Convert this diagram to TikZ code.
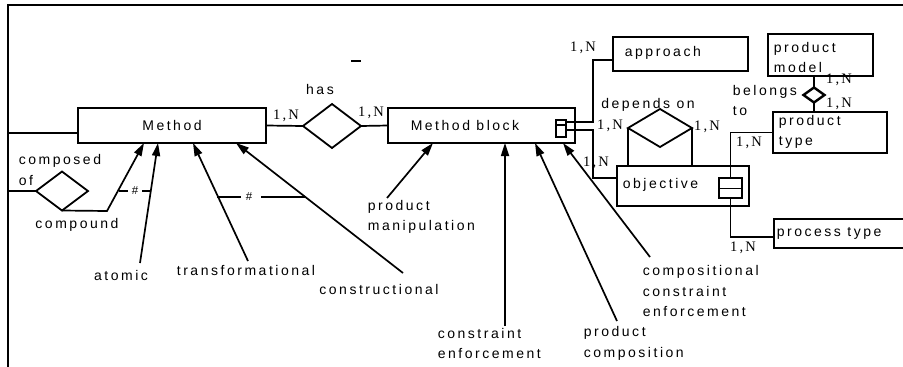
\documentclass[tikz,border=0pt]{standalone}
\usepackage{fontspec}
\setmainfont{Liberation Sans}[LetterSpace=18]
\newfontfamily\cardfont{Liberation Serif}[LetterSpace=15]
\usetikzlibrary{shapes.geometric,arrows.meta}

\begin{document}
\begin{tikzpicture}[x=1pt,y=-1pt,line width=1.7pt,
  ebox/.style={draw,line width=1.8pt,inner sep=0pt,outer sep=0pt,anchor=north west},
  rel/.style={draw,diamond,line width=1.8pt,inner sep=0pt,outer sep=0pt},
  lbl/.style={font=\fontsize{14}{20.5}\selectfont,inner sep=0pt,align=left},
  card/.style={font=\cardfont\fontsize{14.5}{15}\selectfont,inner sep=0pt},
  isa/.style={-{Triangle[length=13pt,width=8pt]}},
]
\useasboundingbox (0,0) rectangle (903,367);

% frame
\coordinate (frTL) at (8,5);
\coordinate (frTR) at (903,5);
\coordinate (frBL) at (8,367);
\draw (frTR) -- (frTL) -- (frBL);
\coordinate (mkA) at (351,61);
\coordinate (mkB) at (361,61);
\draw[line width=2.8pt] (mkA) -- (mkB);

% entities
\node[ebox,minimum width=188pt,minimum height=35pt] (method) at (78,108) {};
\node[lbl] (methodT) at (172,125) {Method};
\node[ebox,minimum width=187pt,minimum height=35pt] (mblock) at (388,108) {};
\node[lbl] (mblockT) at (465,125) {Method block};
\node[ebox,minimum width=10pt,minimum height=17pt] (mbc) at (556,120) {};
\draw[line width=1.2pt] ([yshift=-5pt]mbc.north west) -- ([yshift=-5pt]mbc.north east);

\node[ebox,minimum width=135pt,minimum height=34pt] (approach) at (613,37) {};
\node[lbl,anchor=west] (approachT) at (624,53) {approach};
\node[ebox,minimum width=132pt,minimum height=40pt] (objective) at (617,166) {};
\node[lbl,anchor=west] (objectiveT) at (622,185) {objective};
\node[ebox,minimum width=23pt,minimum height=20pt] (obc) at (719,178) {};
\draw[line width=1.2pt] ([yshift=-10.5pt]obc.north west) -- ([yshift=-10.5pt]obc.north east);

\node[ebox,minimum width=105pt,minimum height=42pt] (pmodel) at (768,34) {};
\node[lbl,anchor=west] (pmodelT) at (773,57.5) {product\\model};
\node[ebox,minimum width=114pt,minimum height=41pt] (ptype) at (773,112) {};
\node[lbl,anchor=west] (ptypeT) at (778,132) {product\\type};
\node[ebox,minimum width=140pt,minimum height=29pt] (proc) at (774,219) {};
\node[lbl,anchor=west] (procT) at (776,233) {process type};

% relationships
\node[rel,minimum width=58pt,minimum height=44pt] (has) at (332,126) {};
\node[lbl] (hasT) at (320,89) {has};
\node[rel,minimum width=52pt,minimum height=39pt] (comp) at (62,191) {};
\node[lbl,anchor=west] (compT) at (18,170) {composed\\of};
\node[rel,minimum width=64pt,minimum height=38pt] (dep) at (660,128) {};
\node[lbl] (depT) at (648,105) {depends on};
\node[rel,minimum width=21pt,minimum height=15pt,line width=2.4pt] (bel) at (814,95) {};
\node[lbl,anchor=west] (belT) at (732,100.5) {belongs\\to};

% cardinalities
\node[card] (c1) at (286,116) {1,N};
\node[card] (c2) at (371,113) {1,N};
\node[card] (c3) at (583,48) {1,N};
\node[card] (c4) at (610,126) {1,N};
\node[card] (c5) at (596,163) {1,N};
\node[card] (c6) at (707,127) {1,N};
\node[card] (c7) at (839,80) {1,N};
\node[card] (c8) at (839,104) {1,N};
\node[card] (c9) at (749,143) {1,N};
\node[card] (c10) at (743,248) {1,N};

% relationship connectors
\draw (method.east) -- (has.west);
\draw (has.east) -- (mblock.west);
\coordinate (f133) at (8,133);
\draw (f133) -- (f133 -| method.west);
\draw (comp.west) -- (comp.west -| f133);
\coordinate (apJ) at (593,60);
\draw ([yshift=6.5pt]mbc.east) -| (apJ) -- (apJ -| approach.west);
\coordinate (obJ) at (593,178);
\draw ([yshift=-1.5pt]mbc.east) -| (obJ) -- (obJ -| objective.west);
\draw (dep.west) -- (dep.west |- objective.north);
\draw (dep.east) -- (dep.east |- objective.north);
\draw (bel.north) -- (bel.north |- pmodel.south);
\draw (bel.south) -- (bel.south |- ptype.north);
\draw (obc.north) |- (ptype.west);
\draw (obc.south) |- ([yshift=-3.5pt]proc.west);

% specialisations of Method
\node[lbl] (compoundT) at (77,225) {compound};
\node[lbl] (atomicT) at (121,275) {atomic};
\node[lbl] (transT) at (246,270) {transformational};
\node[lbl] (constrT) at (379,289) {constructional};
\coordinate (cbend) at (107,211);
\draw[isa] (comp.south) -- (cbend) -- ([xshift=66pt]method.south west);
\coordinate (atomicE) at (140,263);
\draw[isa] (atomicE) -- ([xshift=80pt]method.south west);
\coordinate (transE) at (248,261);
\draw[isa] (transE) -- ([xshift=115pt]method.south west);
\coordinate (constrE) at (403,273);
\draw[isa] (constrE) -- ([xshift=158pt]method.south west);

% exclusivity marks
\node[font=\fontsize{11.5}{12}\selectfont,inner sep=0pt] (ex1) at (135,191) {\#};
\coordinate (ex1a) at (119,191);
\coordinate (ex1b) at (150,191);
\draw (ex1a) -- ([xshift=-3pt]ex1.west);
\draw ([xshift=3pt]ex1.east) -- (ex1b);
\node[font=\fontsize{11.5}{12}\selectfont,inner sep=0pt] (ex2) at (249,197) {\#};
\coordinate (ex2a) at (217,197);
\coordinate (ex2b) at (305,197);
\draw (ex2a) -- ([xshift=-4pt]ex2.west);
\draw ([xshift=8pt]ex2.east) -- (ex2b);

% specialisations of Method block
\node[lbl,anchor=west] (pmanT) at (367,217) {product\\manipulation};
\coordinate (pmanE) at (387,198);
\draw[isa] (pmanE) -- ([xshift=45pt]mblock.south west);
\node[lbl,anchor=west] (cenfT) at (437,343.5) {constraint\\enforcement};
\coordinate (cenfE) at (505,326);
\draw[isa] (cenfE) -- (cenfE |- mblock.south);
\node[lbl,anchor=west] (pcompT) at (583,343.5) {product\\composition};
\coordinate (pcompE) at (617,321);
\draw[isa] (pcompE) -- ([xshift=147pt]mblock.south west);
\node[lbl,anchor=west] (ccenfT) at (642,291) {compositional\\constraint\\enforcement};
\coordinate (ccenfE) at (650,257);
\draw[isa] (ccenfE) -- ([xshift=175pt]mblock.south west);
\end{tikzpicture}
\end{document}
